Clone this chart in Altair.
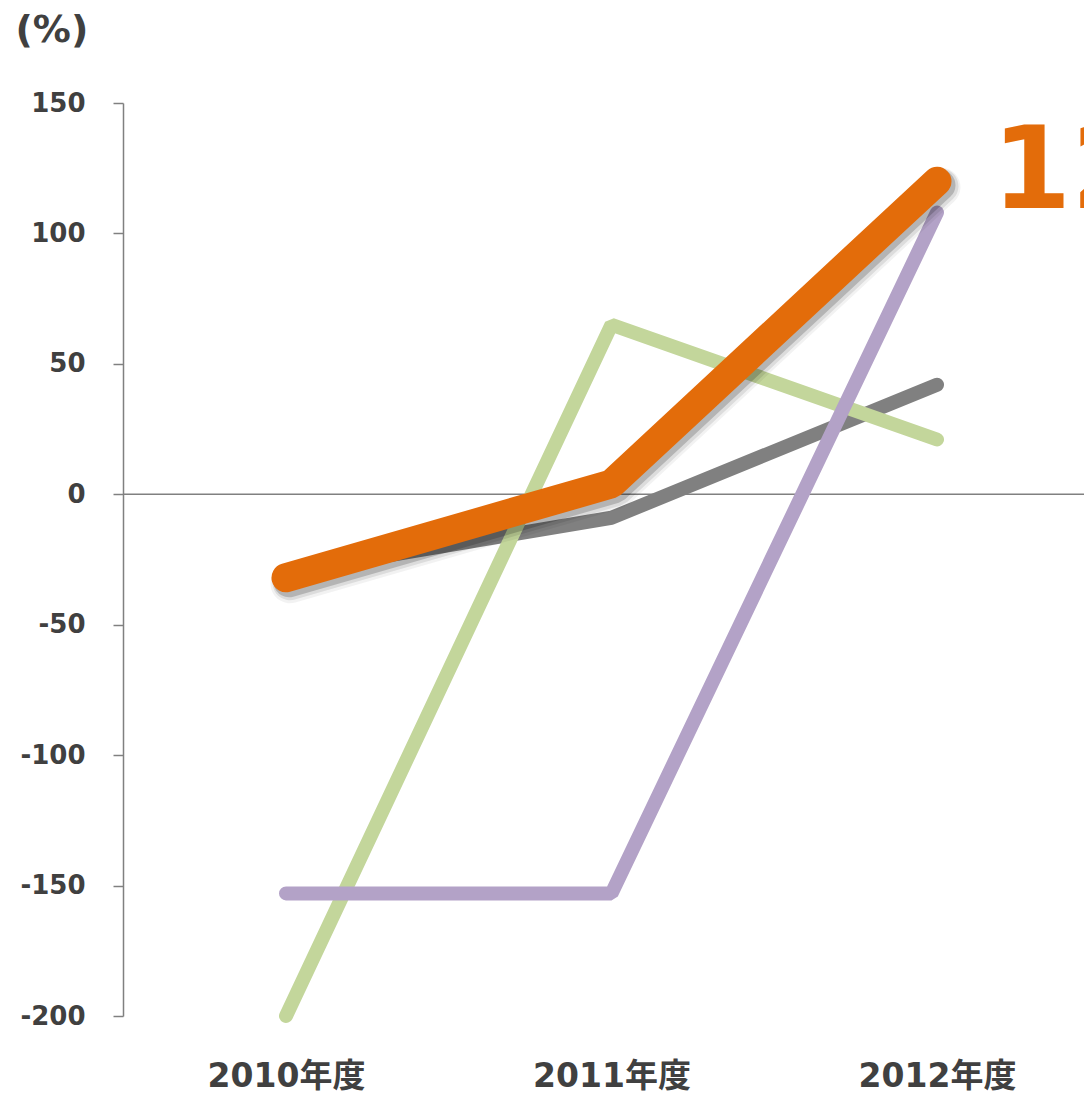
import altair as alt
import pandas as pd

years = ["2010年度", "2011年度", "2012年度"]
orange_vals = [-32, 4, 120]
gray_vals = [-30, -9, 42]
green_vals = [-200, 65, 21]
purple_vals = [-153, -153, 108]
y_ticks = [-200, -150, -100, -50, 0, 50, 100, 150]
zero_line = [0]
end_label = "120%"

def frame(vals):
    return pd.DataFrame({"year": years, "value": vals})

FONT = "DejaVu Sans, Noto Sans CJK JP, sans-serif"

x_enc = alt.X("year:N", sort=years,
              scale=alt.Scale(type="point", range=[163, 814], padding=0),
              axis=alt.Axis(title=None, ticks=False, domain=False, grid=False,
                            labelAngle=0, labelFont=FONT, labelFontSize=33,
                            labelFontWeight="bold", labelColor="#404040",
                            labelPadding=44))
y_enc = alt.Y("value:Q",
              scale=alt.Scale(domain=[-200, 150], nice=False, zero=False),
              axis=alt.Axis(title="(%)", titleAngle=0, titleAlign="left",
                            titleBaseline="middle", titleX=-108, titleY=-73,
                            titleFont=FONT, titleFontSize=38, titleFontWeight="bold",
                            titleColor="#404040",
                            values=y_ticks, grid=False, domainColor="#808080",
                            domainWidth=1.5, tickColor="#808080", tickWidth=1.5,
                            tickSize=10, labelPadding=28, labelFont=FONT,
                            labelFontSize=26, labelFontWeight="bold",
                            labelColor="#404040",
                            labelExpr="'' + datum.value"))

zero = alt.Chart(pd.DataFrame({"value": zero_line})).mark_rule(
    color="#808080", strokeWidth=1.5).encode(y=y_enc)

def line(vals, color, width, **kw):
    return alt.Chart(frame(vals)).mark_line(color=color, strokeWidth=width,
                                            strokeCap="round", strokeJoin="bevel", **kw).encode(
        x=x_enc, y=y_enc)

gray = line(gray_vals, "#808080", 14)
green = line(green_vals, "#C3D69B", 14)
purple = line(purple_vals, "#B3A2C7", 14)
shadow1 = line(orange_vals, "#000000", 39, opacity=0.05, xOffset=4, yOffset=6)
shadow2 = line(orange_vals, "#000000", 35, opacity=0.09, xOffset=4, yOffset=5)
shadow3 = line(orange_vals, "#000000", 31, opacity=0.18, xOffset=3, yOffset=4)
orange = line(orange_vals, "#E36C0A", 29)

label_df = pd.DataFrame({"year": [years[-1]], "value": [orange_vals[-1]], "label": [end_label]})
label = alt.Chart(label_df).mark_text(color="#E36C0A", font=FONT, fontSize=114,
                                      fontWeight="bold", align="left",
                                      baseline="alphabetic", dx=55, dy=27).encode(
    x=x_enc, y=y_enc, text="label:N")

chart = alt.layer(zero, gray, green, purple, shadow1, shadow2, shadow3, orange, label).properties(
    width=961, height=913,
    background="white",
    autosize=alt.AutoSizeParams(type="none"),
    padding={"left": 115, "top": 95, "right": 0, "bottom": 77},
).configure_view(stroke="transparent", strokeWidth=0)

chart.save("out.html", embed_options={"renderer": "svg", "actions": False})
